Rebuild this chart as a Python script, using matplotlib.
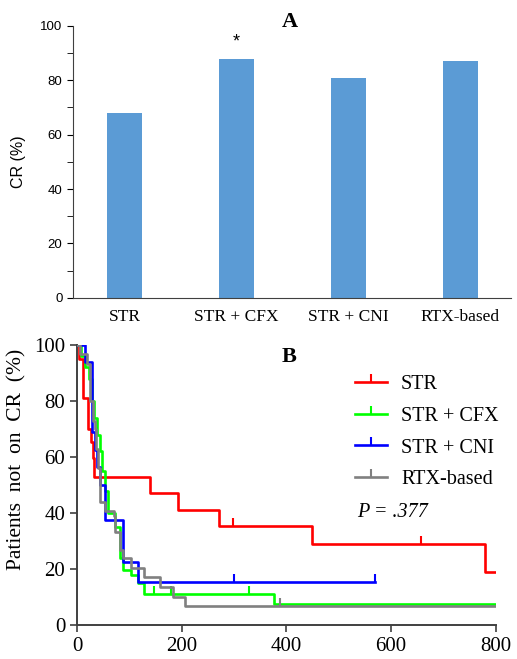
import numpy as np
import matplotlib
matplotlib.use('Agg')
import matplotlib.pyplot as plt
from matplotlib.lines import Line2D

# panel A data
groups = ['STR', 'STR + CFX', 'STR + CNI', 'RTX-based']
cr_rate = [68, 88, 81, 87]

# panel B data (Kaplan-Meier steps, days vs % not in CR)
str_t = [0, 4, 12, 20, 26, 30, 33, 139, 193, 271, 448, 780, 800]
str_s = [100, 95, 81, 70, 65.5, 59.6, 53, 47.1, 41.2, 35.5, 29, 19, 19]
str_cens_t = [298, 658]
str_cens_s = [35.5, 29]

cfx_t = [0, 8, 15, 23, 28, 33, 38, 43, 48, 53, 59, 72, 82, 88, 104, 117, 128, 376, 800]
cfx_s = [100, 96, 92, 88, 80, 74, 68, 62, 55, 48, 40, 35, 24, 19.6, 17.8, 15, 11, 7.4, 7.4]
cfx_cens_t = [147, 179, 328]
cfx_cens_s = [11, 11, 11]

cni_t = [0, 15, 29, 34, 38, 44, 54, 87, 117, 570]
cni_s = [100, 93.75, 69, 62.5, 56.25, 50, 37.5, 22.5, 15.4, 15.4]
cni_cens_t = [300, 570]
cni_cens_s = [15.4, 15.4]

rtx_t = [0, 6, 19, 25, 30, 34, 37, 40, 43, 54, 70, 73, 82, 88, 104, 127, 158, 184, 206, 800]
rtx_s = [100, 96.7, 93.3, 80, 73, 70, 63, 56, 44, 40.6, 39, 33.3, 26.8, 23.8, 20.4, 17, 13.5, 10.1, 6.8, 6.8]
rtx_cens_t = [388]
rtx_cens_s = [6.8]

serif = 'Liberation Serif'
sans = 'Liberation Sans'

fig = plt.figure(figsize=(5.17, 6.59), dpi=100)

# ---- panel A
axA = fig.add_axes([0.141, 0.548, 0.847, 0.4127])
x = np.arange(len(groups))
axA.bar(x, cr_rate, width=0.31, color='#5b9bd5')
axA.set_xlim(-0.46, 3.45)
axA.set_ylim(0, 100)
axA.set_yticks(range(0, 101, 20))
axA.set_yticks(range(0, 101, 10), minor=True)
axA.set_xticks(x)
axA.set_xticklabels(groups, fontfamily=serif, fontsize=12.5)
axA.tick_params(axis='x', length=0, pad=8)
axA.tick_params(axis='y', which='both', length=4, labelsize=9.5, direction='out')
for lab in axA.get_yticklabels():
    lab.set_fontfamily(sans)
axA.set_ylabel('CR (%)', fontfamily=sans, fontsize=11.5, labelpad=10)
axA.spines['top'].set_visible(False)
axA.spines['right'].set_visible(False)
axA.spines['left'].set_color('#404040')
axA.spines['bottom'].set_color('#404040')
axA.text(1, cr_rate[1] + 3, '*', ha='center', va='bottom', fontsize=13, fontfamily=sans)
fig.text(0.561, 0.966, 'A', ha='center', va='center', fontfamily=serif,
         fontweight='bold', fontsize=16)

# ---- panel B
axB = fig.add_axes([0.149, 0.0516, 0.81, 0.4249])
series = [
    ('STR', '#ff0000', str_t, str_s, str_cens_t, str_cens_s),
    ('STR + CFX', '#00ff00', cfx_t, cfx_s, cfx_cens_t, cfx_cens_s),
    ('STR + CNI', '#0000ff', cni_t, cni_s, cni_cens_t, cni_cens_s),
    ('RTX-based', '#808080', rtx_t, rtx_s, rtx_cens_t, rtx_cens_s),
]
handles = []
order = [0, 2, 3, 1]
for i in order:
    name, col, t, s, ct, cs = series[i]
    axB.step(t, s, where='post', color=col, lw=1.9, zorder=3 + i)
    axB.plot(ct, cs, linestyle='none', marker=2, markersize=6,
             markeredgewidth=1.5, color=col, zorder=3 + i)
for name, col, t, s, ct, cs in series:
    handles.append(Line2D([], [], color=col, lw=1.9, marker=2, markersize=6,
                          markeredgewidth=1.5))

axB.set_xlim(0, 800)
axB.set_ylim(0, 100)
axB.set_xticks(range(0, 801, 200))
axB.set_yticks(range(0, 101, 20))
axB.tick_params(axis='both', length=5, width=1.2, direction='out', color='#404040',
                labelsize=15)
for lab in axB.get_xticklabels() + axB.get_yticklabels():
    lab.set_fontfamily(serif)
axB.set_ylabel('Patients  not  on  CR  (%)', fontfamily=serif, fontsize=15.5)
axB.yaxis.set_label_coords(-0.12, 0.59)
axB.spines['top'].set_visible(False)
axB.spines['right'].set_visible(False)
for sp in ['left', 'bottom']:
    axB.spines[sp].set_color('#404040')
    axB.spines[sp].set_linewidth(1.4)

leg = axB.legend(handles, [s[0] for s in series], loc='upper left',
                 bbox_to_anchor=(0.62, 0.958), frameon=False, numpoints=1,
                 handlelength=1.6, handletextpad=0.7, labelspacing=0.63,
                 prop={'family': serif, 'size': 14.5})
axB.text(0.668, 0.40, 'P = .377', transform=axB.transAxes, fontfamily=serif,
         fontsize=14.5, ha='left', va='center', fontstyle='italic')
fig.text(0.559, 0.459, 'B', ha='center', va='center', fontfamily=serif,
         fontweight='bold', fontsize=16)

fig.savefig('out.png', dpi=100)
